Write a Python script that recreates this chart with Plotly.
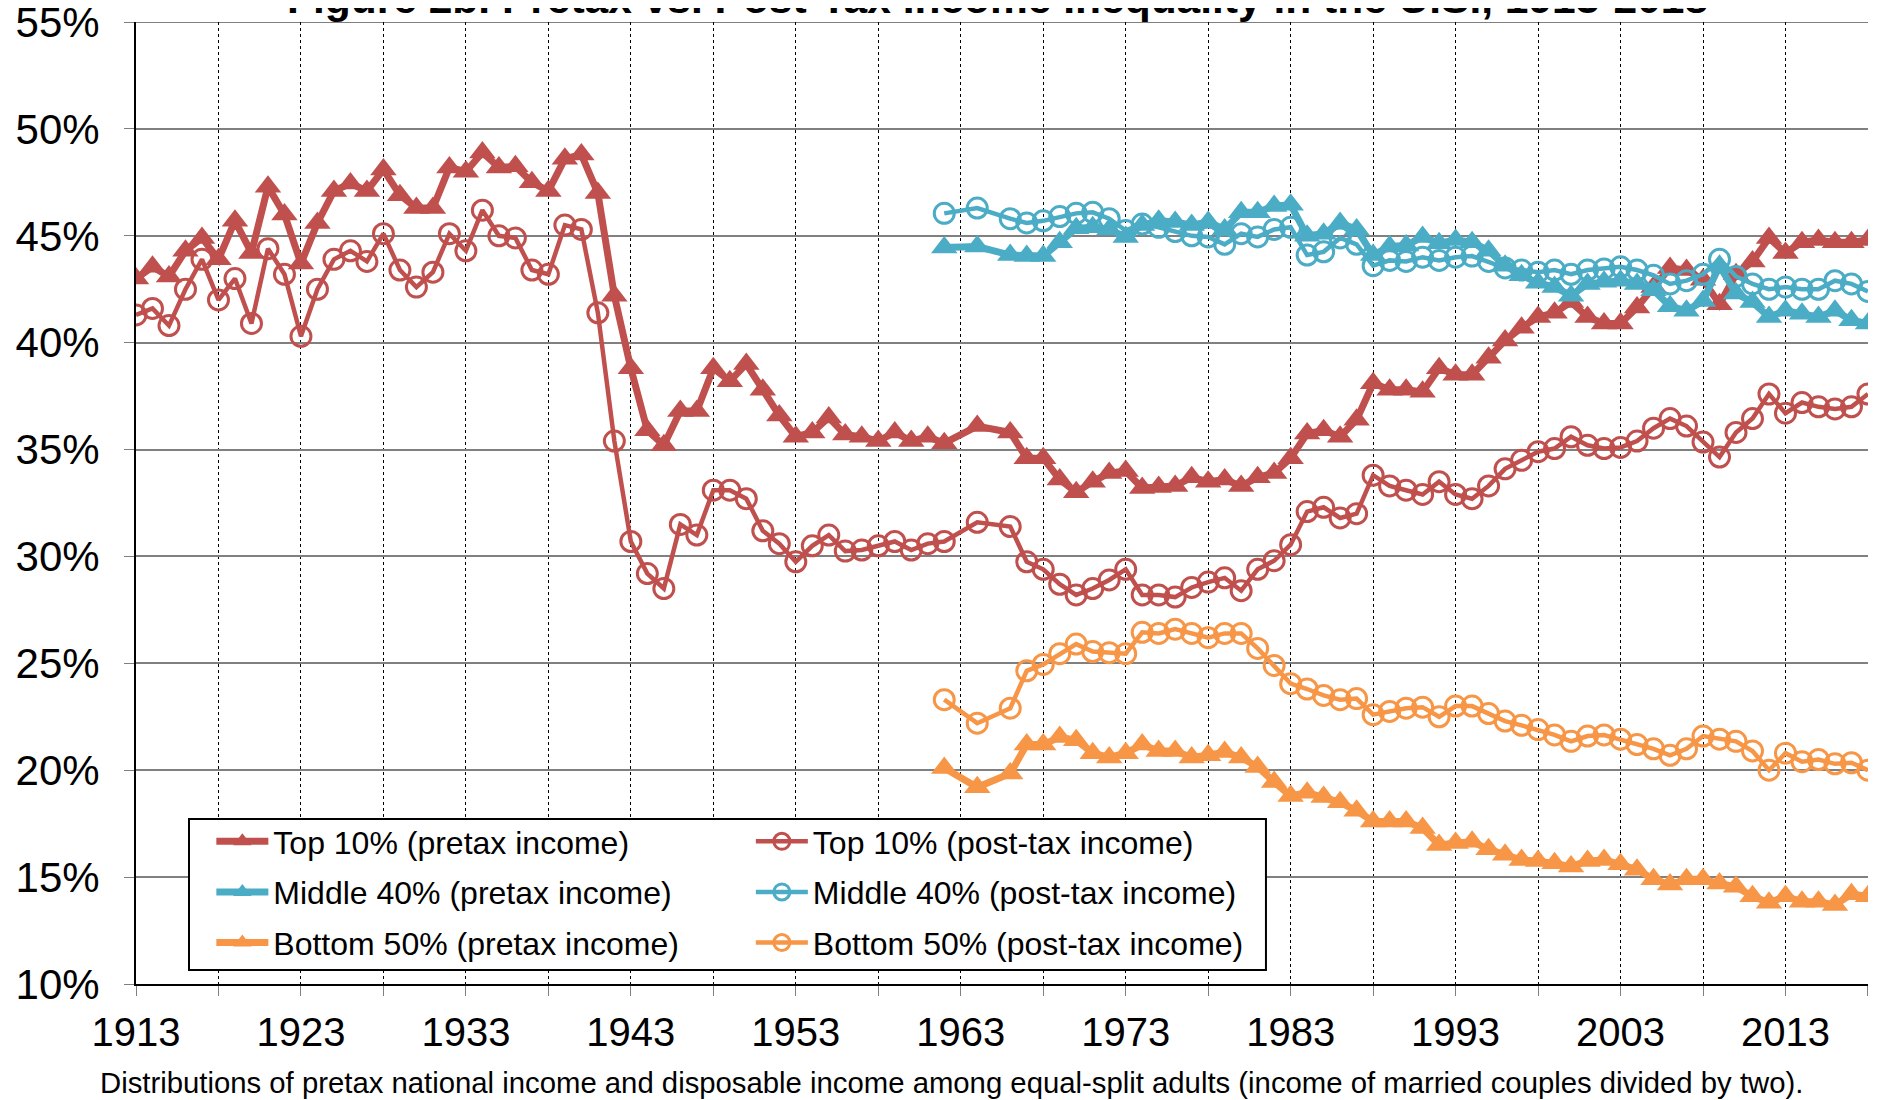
import plotly.graph_objects as go

# ---------------- data ----------------
years_top = list(range(1913, 1963)) + [1964] + list(range(1966, 2019))
years_mid = [1962, 1964] + list(range(1966, 2019))

top10_pretax = [
    43.0, 43.55, 43.1, 44.3, 44.9, 43.9, 45.7, 44.2, 47.3, 46.0,   # 1913-1922
    43.7, 45.6, 47.1, 47.45, 47.1, 48.1, 46.9, 46.3, 46.3, 48.2,  # 1923-1932
    48.0, 48.9, 48.2, 48.25, 47.5, 47.1, 48.6, 48.8, 47.0, 42.2,  # 1933-1942
    38.8, 35.9, 35.2, 36.8, 36.8, 38.8, 38.2, 39.0, 37.8, 36.6,   # 1943-1952
    35.6, 35.8, 36.5, 35.7, 35.6, 35.4, 35.8, 35.4, 35.6, 35.3,   # 1953-1962
    36.1,                                                          # 1964
    35.8, 34.6, 34.6, 33.6, 33.0, 33.5, 33.9, 34.0, 33.2, 33.25,  # 1966-1975
    33.3, 33.7, 33.5, 33.6, 33.3, 33.7, 33.9, 34.6, 35.75, 35.9,  # 1976-1985
    35.6, 36.4, 38.1, 37.8, 37.8, 37.7, 38.8, 38.5, 38.5, 39.3,   # 1986-1995
    40.1, 40.7, 41.2, 41.4, 41.9, 41.2, 40.9, 40.9, 41.65, 42.6,  # 1996-2005
    43.5, 43.4, 42.95, 41.8, 43.2, 43.8, 44.9, 44.2, 44.7, 44.8,  # 2006-2015
    44.7, 44.7, 44.8,                                              # 2016-2018
]

top10_posttax = [
    41.3, 41.6, 40.8, 42.5, 43.9, 42.0, 43.0, 40.9, 44.4, 43.2,   # 1913-1922
    40.3, 42.5, 43.9, 44.3, 43.8, 45.1, 43.4, 42.6, 43.3, 45.1,   # 1923-1932
    44.3, 46.2, 45.0, 44.9, 43.4, 43.2, 45.5, 45.3, 41.4, 35.4,   # 1933-1942
    30.7, 29.2, 28.5, 31.5, 31.0, 33.1, 33.1, 32.7, 31.2, 30.6,   # 1943-1952
    29.75, 30.5, 31.0, 30.25, 30.3, 30.5, 30.7, 30.3, 30.6, 30.7, # 1953-1962
    31.6,                                                          # 1964
    31.4, 29.75, 29.4, 28.7, 28.2, 28.5, 28.9, 29.4, 28.2, 28.2,  # 1966-1975
    28.1, 28.55, 28.8, 29.0, 28.4, 29.4, 29.8, 30.55, 32.1, 32.3, # 1976-1985
    31.8, 32.0, 33.8, 33.3, 33.1, 32.9, 33.5, 32.9, 32.7, 33.3,   # 1986-1995
    34.1, 34.5, 34.9, 35.05, 35.6, 35.2, 35.05, 35.1, 35.4, 36.0, # 1996-2005
    36.45, 36.1, 35.35, 34.65, 35.8, 36.45, 37.6, 36.7, 37.2, 37.0, # 2006-2015
    36.9, 37.0, 37.6,                                              # 2016-2018
]

middle40_pretax = [
    44.45, 44.5,                                                   # 1962, 1964
    44.1, 44.05, 44.05, 44.7, 45.35, 45.4, 45.3, 44.95, 45.5, 45.7, # 1966-1975
    45.65, 45.5, 45.65, 45.3, 46.1, 46.1, 46.4, 46.45, 45.0, 45.1, # 1976-1985
    45.6, 45.3, 44.1, 44.5, 44.55, 44.95, 44.65, 44.8, 44.7, 44.3, # 1986-1995
    43.6, 43.15, 42.8, 42.6, 42.2, 42.75, 42.85, 42.9, 42.75, 42.45, # 1996-2005
    41.7, 41.5, 41.95, 43.6, 42.3, 41.9, 41.2, 41.5, 41.35, 41.2, # 2006-2015
    41.5, 41.05, 40.9,                                             # 2016-2018
]

middle40_posttax = [
    46.05, 46.3,                                                   # 1962, 1964
    45.8, 45.6, 45.7, 45.9, 46.05, 46.1, 45.8, 45.25, 45.55, 45.4, # 1966-1975
    45.2, 45.0, 44.95, 44.6, 45.1, 44.95, 45.3, 45.4, 44.1, 44.25, # 1976-1985
    44.9, 44.6, 43.6, 43.85, 43.8, 44.0, 43.85, 44.0, 44.05, 43.8, # 1986-1995
    43.5, 43.4, 43.3, 43.4, 43.2, 43.4, 43.45, 43.55, 43.4, 43.15, # 1996-2005
    42.75, 42.9, 43.2, 43.9, 43.1, 42.75, 42.5, 42.6, 42.5, 42.5,  # 2006-2015
    42.9, 42.75, 42.4,                                             # 2016-2018
]

bottom50_pretax = [
    20.1, 19.2,                                                    # 1962, 1964
    19.85, 21.2, 21.2, 21.55, 21.4, 20.8, 20.6, 20.8, 21.2, 20.9,  # 1966-1975
    20.9, 20.6, 20.7, 20.85, 20.6, 20.15, 19.45, 18.8, 18.95, 18.75, # 1976-1985
    18.5, 18.1, 17.6, 17.6, 17.6, 17.3, 16.5, 16.6, 16.65, 16.3,   # 1986-1995
    16.05, 15.8, 15.75, 15.65, 15.5, 15.75, 15.8, 15.6, 15.35, 14.9, # 1996-2005
    14.65, 14.9, 14.9, 14.7, 14.55, 14.1, 13.8, 14.1, 13.85, 13.85, # 2006-2015
    13.7, 14.2, 14.1,                                              # 2016-2018
]

bottom50_posttax = [
    23.3, 22.2,                                                    # 1962, 1964
    22.9, 24.65, 24.95, 25.45, 25.9, 25.55, 25.5, 25.45, 26.45, 26.4, # 1966-1975
    26.6, 26.4, 26.2, 26.4, 26.4, 25.7, 24.9, 24.05, 23.8, 23.5,   # 1976-1985
    23.3, 23.35, 22.6, 22.75, 22.9, 22.95, 22.5, 23.0, 23.0, 22.65, # 1986-1995
    22.3, 22.1, 21.9, 21.65, 21.35, 21.6, 21.65, 21.45, 21.2, 21.0, # 1996-2005
    20.7, 21.0, 21.6, 21.45, 21.35, 20.9, 20.0, 20.8, 20.4, 20.5,  # 2006-2015
    20.3, 20.35, 20.0,                                             # 2016-2018
]

grid_years = list(range(1913, 2019, 5))
tick_labels = [str(y) if (y - 1913) % 10 == 0 else "" for y in grid_years]
y_ticks = [10, 15, 20, 25, 30, 35, 40, 45, 50, 55]
y_tick_labels = [f"{v}%" for v in y_ticks]
Y_MIN, Y_MAX = 10, 55
X_MIN, X_MAX = 1913, 2018

title_text = "Figure 2b. Pretax vs. Post-Tax Income Inequality in the U.S., 1913-2018"
note_text = ("Distributions of pretax national income and disposable income among "
             "equal-split adults (income of married couples divided by two).")

RED = "#C0504D"
BLUE = "#4BACC6"
ORANGE = "#F79646"

FONT = "Liberation Sans, Arial, sans-serif"

# ---------------- figure ----------------
fig = go.Figure()

def pretax(name, x, y, color):
    fig.add_trace(go.Scatter(
        x=x, y=y, name=name, mode="lines+markers",
        legend="legend", legendgroup=name,
        line=dict(color=color, width=7),
        marker=dict(symbol="triangle-up", size=23, color=color),
    ))

def posttax(name, x, y, color):
    fig.add_trace(go.Scatter(
        x=x, y=y, name=name, mode="lines+markers",
        legend="legend2", legendgroup=name,
        line=dict(color=color, width=4.5),
        marker=dict(symbol="circle-open", size=20, color=color,
                    line=dict(color=color, width=3)),
    ))

pretax("Top 10% (pretax income)", years_top, top10_pretax, RED)
posttax("Top 10% (post-tax income)", years_top, top10_posttax, RED)
pretax("Middle 40% (pretax income)", years_mid, middle40_pretax, BLUE)
posttax("Middle 40% (post-tax income)", years_mid, middle40_posttax, BLUE)
pretax("Bottom 50% (pretax income)", years_mid, bottom50_pretax, ORANGE)
posttax("Bottom 50% (post-tax income)", years_mid, bottom50_posttax, ORANGE)

legend_common = dict(
    orientation="v", yanchor="top", xanchor="left",
    bgcolor="rgba(0,0,0,0)", borderwidth=0,
    font=dict(size=32, family=FONT, color="black"),
    itemwidth=52, tracegroupgap=6, traceorder="grouped",
)

fig.update_layout(
    width=1869, height=1092,
    paper_bgcolor="white", plot_bgcolor="white",
    margin=dict(l=128, r=9, t=14, b=116, autoexpand=False),
    font=dict(family=FONT, color="black"),
    showlegend=True,
    legend=dict(x=0.0435, y=0.1767, **legend_common),
    legend2=dict(x=0.355, y=0.1767, **legend_common),
    shapes=[
        # top gridline of the plot area (55%)
        dict(type="line", xref="paper", yref="y", x0=0, x1=1, y0=Y_MAX, y1=Y_MAX,
             line=dict(color="#808080", width=2), layer="below"),
        # legend box
        dict(type="rect", xref="paper", yref="paper",
             x0=0.0306, x1=0.6524, y0=0.01455, y1=0.1715,
             fillcolor="white", line=dict(color="black", width=2),
             layer="above"),
    ],
    annotations=[
        dict(text=title_text, xref="paper", yref="paper", x=0.4975, y=1.0249,
             xanchor="center", yanchor="middle", showarrow=False,
             font=dict(size=42.5, family=FONT, color="black", weight="bold")),
        dict(text=note_text, xref="paper", yref="paper", x=0.4709, y=-0.1019,
             xanchor="center", yanchor="middle", showarrow=False,
             font=dict(size=29.3, family=FONT, color="black")),
    ],
)

fig.update_xaxes(
    range=[X_MIN, X_MAX + 0.002], automargin=False,
    tickmode="array", tickvals=grid_years, ticktext=tick_labels,
    showgrid=True, gridcolor="black", gridwidth=1, griddash="dot",
    showline=True, linecolor="black", linewidth=2,
    ticks="outside", ticklen=10, tickcolor="#808080", tickwidth=1,
    tickfont=dict(size=40, family=FONT, color="black"),
    ticklabelstandoff=2, ticklabeloverflow="allow",
    zeroline=False,
)
fig.update_yaxes(
    range=[Y_MIN, Y_MAX + 0.002], automargin=False,
    tickmode="array", tickvals=y_ticks, ticktext=y_tick_labels,
    showgrid=True, gridcolor="#808080", gridwidth=2,
    showline=True, linecolor="black", linewidth=2,
    ticks="outside", ticklen=10, tickcolor="#808080", tickwidth=1,
    tickfont=dict(size=42, family=FONT, color="black"),
    ticklabelstandoff=16, ticklabeloverflow="allow",
    zeroline=False,
)

fig.write_html("out.html")
